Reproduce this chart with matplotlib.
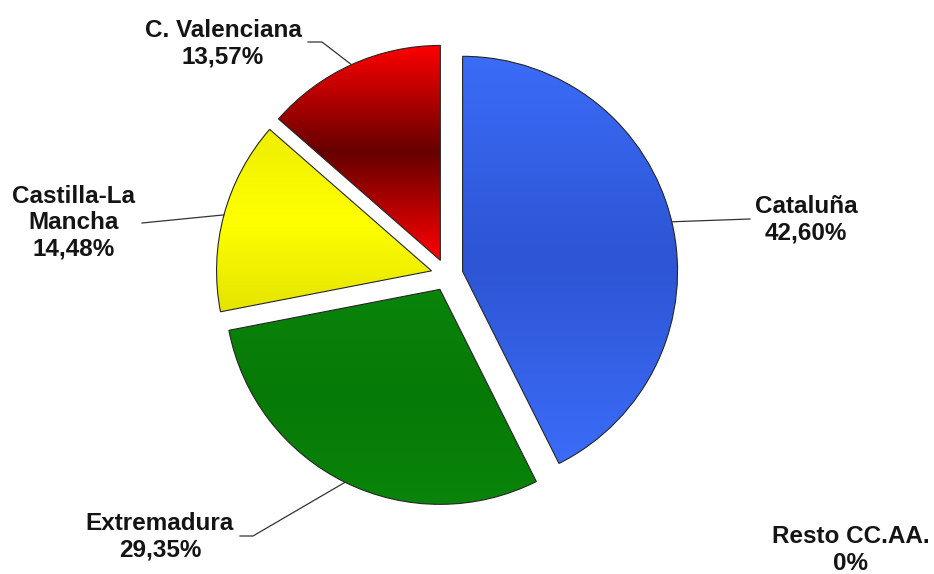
import numpy as np
import matplotlib.pyplot as plt
from matplotlib.colors import LinearSegmentedColormap

# slices, clockwise from 12 o'clock
regions = ['Cataluña', 'Extremadura', 'Castilla-La\nMancha', 'C. Valenciana', 'Resto CC.AA.']
shares = [42.60, 29.35, 14.48, 13.57, 0.0]
share_labels = ['42,60%', '29,35%', '14,48%', '13,57%', '0%']

# vertical gradient per slice: bottom, middle, top
gradients = [
    ['#3b6cf8', '#2d55d4', '#3b6cf8'],
    ['#0a840a', '#067a06', '#0a840a'],
    ['#e4e400', '#ffff00', '#eeee00'],
    ['#ff0000', '#660000', '#ff0000'],
    ['#999999', '#999999', '#999999'],
]

# pie centre / radius in pixels of the 934x574 picture
CX, CY, R = 447, 275, 215


def px(x, y):
    # pixel position -> data coords (pie centre at 0,0, radius 1)
    return ((x - CX) / R, (CY - y) / R)


# label block centres and leader line start/elbow, in pixels
label_pos = [(806, 220), (160, 537), (74, 223), (223, 44), (851, 550)]
leader_pts = [[(750, 219)], [(240, 536), (253, 536)], [(142, 223)], [(308, 42), (322, 42)], []]


def main():
    fig = plt.figure(figsize=(9.34, 5.74), dpi=100)
    ax = fig.add_axes([0, 0, 1, 1])

    explode = [16 / R] * len(shares)
    wedges, _ = ax.pie(shares, explode=explode, startangle=90, counterclock=False,
                       radius=1, center=(0, 0),
                       wedgeprops=dict(edgecolor='#262626', linewidth=0.8))

    for w, val, stops in zip(wedges, shares, gradients):
        if val == 0:
            w.set_visible(False)
            continue
        w.set_facecolor('none')
        w.set_zorder(3)
        bb = w.get_path().get_extents()
        cmap = LinearSegmentedColormap.from_list('g', stops)
        grad = np.linspace(0, 1, 256).reshape(-1, 1)
        im = ax.imshow(grad, extent=(bb.x0, bb.x1, bb.y0, bb.y1), origin='lower',
                       cmap=cmap, aspect='auto', zorder=2, interpolation='bilinear')
        im.set_clip_path(w)

    # labels + leader lines
    for w, name, pct, pos, pts in zip(wedges, regions, share_labels, label_pos, leader_pts):
        tx, ty = px(*pos)
        ax.text(tx, ty, name + '\n' + pct, ha='center', va='center', fontsize=17.5,
                fontweight='bold', family='Liberation Sans', linespacing=1.18,
                color='#141414', zorder=5)
        if not pts:
            continue
        mid = np.deg2rad((w.theta1 + w.theta2) / 2)
        ex = w.center[0] + w.r * np.cos(mid)
        ey = w.center[1] + w.r * np.sin(mid)
        xs = [px(*p)[0] for p in pts] + [ex]
        ys = [px(*p)[1] for p in pts] + [ey]
        ax.plot(xs, ys, color='#333333', lw=0.9, zorder=4)

    ax.set_xlim(-CX / R, (934 - CX) / R)
    ax.set_ylim(-(574 - CY) / R, CY / R)
    ax.axis('off')

    fig.savefig('out.png', dpi=100, facecolor='white')


if __name__ == "__main__":
    main()
